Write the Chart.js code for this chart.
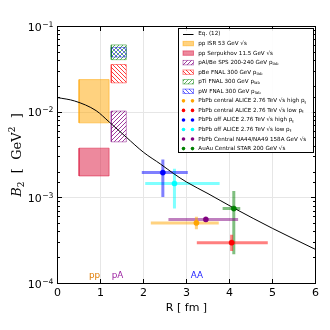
<!DOCTYPE html>
<html>
<head>
<meta charset="utf-8">
<script src="https://cdn.jsdelivr.net/npm/chart.js@4.4.0/dist/chart.umd.min.js"></script>
<style>
html, body { margin: 0; padding: 0; background: #fff; }
</style>
</head>
<body>
<canvas id="chart" width="330" height="330"></canvas>
<script>
// Eq. (12) curve
var curveR = [0, 0.4, 0.9, 1.2, 1.6, 2.0, 2.4, 2.7, 3.0, 3.5, 4.1, 5.0, 6.0];
var curveB = [0.0148, 0.0135, 0.0104, 0.0077, 0.0051, 0.0034, 0.00247, 0.00192, 0.00153, 0.00112, 0.00076, 0.00044, 0.00025];

// pp / pA boxes
var boxLabels = ["pp ISR 53 GeV √s", "pp Serpukhov 11.5 GeV √s", "pAl/Be SPS 200-240 GeV p_lab",
                 "pBe FNAL 300 GeV p_lab", "pTi FNAL 300 GeV p_lab", "pW FNAL 300 GeV p_lab"];
var boxRLo = [0.5, 0.5, 1.25, 1.25, 1.25, 1.25];
var boxRHi = [1.2, 1.2, 1.6, 1.6, 1.6, 1.6];
var boxBLo = [0.0075, 0.0018, 0.0045, 0.022, 0.041, 0.044];
var boxBHi = [0.024, 0.0038, 0.0103, 0.036, 0.061, 0.057];

// AA points with error bars
var ptLabels = ["PbPb central ALICE 2.76 TeV √s high p_t", "PbPb central ALICE 2.76 TeV √s low p_t",
                "PbPb off ALICE 2.76 TeV √s high p_t", "PbPb off ALICE 2.76 TeV √s low p_t",
                "PbPb Central NA44/NA49 158A GeV √s", "AuAu Central STAR 200 GeV √s"];
var ptR   = [3.23, 4.05, 2.45, 2.72, 3.45, 4.10];
var ptRLo = [2.17, 3.24, 1.96, 2.04, 2.58, 3.84];
var ptRHi = [3.75, 4.89, 3.03, 3.77, 4.20, 4.25];
var ptB   = [0.00051, 0.00030, 0.00197, 0.00147, 0.00056, 0.00075];
var ptBLo = [0.00043, 0.00024, 0.00102, 0.00075, 0.00056, 0.00022];
var ptBHi = [0.00060, 0.00037, 0.00280, 0.00219, 0.00056, 0.00120];

var yDecades = [1e-4, 1e-3, 1e-2, 1e-1];

// styles
var boxFill = ['rgba(255,165,0,0.5)', 'rgba(220,20,60,0.5)', null, null, null, null];
var boxEdge = ['rgba(255,165,0,0.5)', 'rgba(220,20,60,0.5)', 'rgba(128,0,128,0.45)',
               'rgba(255,0,0,0.45)', 'rgba(0,128,0,0.45)', 'rgba(0,0,255,0.45)'];
var hatchColor = [null, null, 'rgba(128,0,128,0.85)', 'rgba(255,0,0,0.85)', 'rgba(0,128,0,0.7)', 'rgba(0,0,255,0.7)'];
var hatchDir = [0, 0, 1, -1, 1, -1];
var ptColor = ['255,165,0', '255,0,0', '0,0,255', '0,255,255', '128,0,128', '0,128,0'];

var canvas = document.getElementById('chart');
var ctx = canvas.getContext('2d');

function hatch(color, dir) {
  var s = 4;
  var c = document.createElement('canvas');
  c.width = s; c.height = s;
  var g = c.getContext('2d');
  g.strokeStyle = color;
  g.lineWidth = 0.9;
  g.beginPath();
  if (dir > 0) {
    g.moveTo(-1, s + 1); g.lineTo(s + 1, -1);
    g.moveTo(-1, 1); g.lineTo(1, -1);
    g.moveTo(s - 1, s + 1); g.lineTo(s + 1, s - 1);
  } else {
    g.moveTo(-1, -1); g.lineTo(s + 1, s + 1);
    g.moveTo(s - 1, -1); g.lineTo(s + 1, 1);
    g.moveTo(-1, s - 1); g.lineTo(1, s + 1);
  }
  g.stroke();
  return ctx.createPattern(c, 'repeat');
}

var boxPaint = [];
for (var i = 0; i < boxLabels.length; i++) {
  boxPaint.push(hatchColor[i] ? hatch(hatchColor[i], hatchDir[i]) : boxFill[i]);
}

var datasets = [];
var curvePts = [];
for (i = 0; i < curveR.length; i++) curvePts.push({x: curveR[i], y: curveB[i]});
datasets.push({
  label: 'Eq. (12)', data: curvePts, showLine: true, borderColor: '#000', borderWidth: 1,
  pointRadius: 0, cubicInterpolationMode: 'monotone', fill: false, order: 1
});

for (i = 0; i < boxLabels.length; i++) {
  datasets.push({
    label: boxLabels[i],
    data: [{x: boxRLo[i], y: boxBLo[i]}, {x: boxRHi[i], y: boxBLo[i]}, {x: boxRHi[i], y: boxBHi[i]},
           {x: boxRLo[i], y: boxBHi[i]}, {x: boxRLo[i], y: boxBLo[i]}],
    showLine: true, fill: 'shape', backgroundColor: boxPaint[i], borderColor: boxEdge[i],
    borderWidth: 1, pointRadius: 0, tension: 0, order: 2
  });
}

for (i = 0; i < ptLabels.length; i++) {
  var bar = 'rgba(' + ptColor[i] + ',0.5)';
  datasets.push({
    label: ptLabels[i] + ' xerr', data: [{x: ptRLo[i], y: ptB[i]}, {x: ptRHi[i], y: ptB[i]}],
    showLine: true, borderColor: bar, borderWidth: 3, pointRadius: 0, order: 3
  });
  if (ptBHi[i] > ptBLo[i]) {
    datasets.push({
      label: ptLabels[i] + ' yerr', data: [{x: ptR[i], y: ptBLo[i]}, {x: ptR[i], y: ptBHi[i]}],
      showLine: true, borderColor: bar, borderWidth: 3, pointRadius: 0, order: 3
    });
  }
  datasets.push({
    label: ptLabels[i], data: [{x: ptR[i], y: ptB[i]}], showLine: false,
    pointRadius: 2.6, backgroundColor: 'rgb(' + ptColor[i] + ')', borderColor: 'rgb(' + ptColor[i] + ')',
    borderWidth: 0.5, order: 0
  });
}

function isDecade(v) {
  var l = Math.log10(v);
  return Math.abs(l - Math.round(l)) < 1e-6;
}

function richText(g, text, x, y, size, family) {
  var k = text.indexOf('_');
  var main = k < 0 ? text : text.slice(0, k);
  g.font = size + 'px ' + family;
  g.fillText(main, x, y);
  if (k >= 0) {
    var w = g.measureText(main).width;
    g.font = (size * 0.7) + 'px ' + family;
    g.fillText(text.slice(k + 1), x + w, y + size * 0.3);
  }
}

var decorations = {
  id: 'decorations',
  afterDraw: function(chart) {
    var g = chart.ctx, a = chart.chartArea, xs = chart.scales.x, ys = chart.scales.y;
    g.save();
    g.strokeStyle = '#000';
    g.lineWidth = 1;
    g.strokeRect(a.left, a.top, a.right - a.left, a.bottom - a.top);

    // inward ticks
    g.beginPath();
    xs.ticks.forEach(function(t) {
      var px = Math.round(xs.getPixelForValue(t.value) - 0.5) + 0.5;
      g.moveTo(px, a.bottom); g.lineTo(px, a.bottom - 4.5);
      g.moveTo(px, a.top); g.lineTo(px, a.top + 4.5);
    });
    ys.ticks.forEach(function(t) {
      var py = Math.round(ys.getPixelForValue(t.value) - 0.5) + 0.5;
      var len = isDecade(t.value) ? 4.5 : 2.5;
      g.moveTo(a.left, py); g.lineTo(a.left + len, py);
      g.moveTo(a.right, py); g.lineTo(a.right - len, py);
    });
    g.stroke();

    // y tick labels 10^n
    g.fillStyle = '#000';
    g.textBaseline = 'alphabetic';
    yDecades.forEach(function(v) {
      var py = ys.getPixelForValue(v);
      var sup = '\u2212' + Math.round(-Math.log10(v));
      g.font = '7.7px "DejaVu Sans"';
      var sw = g.measureText(sup).width;
      g.textAlign = 'left';
      g.fillText(sup, 53.5 - sw, py + 0.3);
      g.font = '11px "DejaVu Sans"';
      g.textAlign = 'right';
      g.fillText('10', 53.5 - sw - 0.3, py + 4.2);
    });

    // y axis title
    g.save();
    g.translate(16, (a.top + a.bottom) / 2);
    g.rotate(-Math.PI / 2);
    g.textAlign = 'left';
    var parts = [
      ['B', 'italic 13px "DejaVu Serif"', 0],
      ['2', '9px "DejaVu Serif"', 3],
      ['  [  GeV', '13px "DejaVu Serif"', 0],
      ['2', '9px "DejaVu Serif"', -5.5],
      ['  ]', '13px "DejaVu Serif"', 0]
    ];
    var total = 0;
    parts.forEach(function(p) { g.font = p[1]; total += g.measureText(p[0]).width; });
    var cx = -total / 2;
    parts.forEach(function(p) {
      g.font = p[1];
      g.fillText(p[0], cx, 4.5 + p[2]);
      cx += g.measureText(p[0]).width;
    });
    g.restore();

    // system labels
    g.textAlign = 'left';
    g.font = '8.8px "DejaVu Sans"';
    g.fillStyle = '#e07b00';
    g.fillText('pp', xs.getPixelForValue(0.73), ys.getPixelForValue(1.17e-4));
    g.fillStyle = '#9b1fa0';
    g.fillText('pA', xs.getPixelForValue(1.26), ys.getPixelForValue(1.17e-4));
    g.fillStyle = '#1a1aff';
    g.fillText('AA', xs.getPixelForValue(3.10), ys.getPixelForValue(1.17e-4));

    // legend
    var lx = 178.5, ly = 28.5, lw = 135, lh = 124;
    g.fillStyle = 'rgba(255,255,255,0.9)';
    g.fillRect(lx, ly, lw, lh);
    g.strokeStyle = '#000';
    g.lineWidth = 1;
    g.strokeRect(lx, ly, lw, lh);
    var rowY = function(k) { return 34 + k * 9.55; };
    var hx0 = 183, hx1 = 193.5, tx = 198.3;
    g.textBaseline = 'middle';
    // curve
    g.strokeStyle = '#000';
    g.beginPath(); g.moveTo(hx0, rowY(0) + 0.5); g.lineTo(hx1, rowY(0) + 0.5); g.stroke();
    g.fillStyle = '#000';
    richText(g, 'Eq. (12)', tx, rowY(0), 5.6, '"DejaVu Sans"');
    for (var b = 0; b < boxLabels.length; b++) {
      var y = rowY(b + 1);
      g.fillStyle = boxPaint[b];
      g.fillRect(hx0, y - 2.2, hx1 - hx0, 4.4);
      g.strokeStyle = boxEdge[b];
      g.strokeRect(hx0, y - 2.2, hx1 - hx0, 4.4);
      g.fillStyle = '#000';
      richText(g, boxLabels[b], tx, y, 5.6, '"DejaVu Sans"');
    }
    for (var p = 0; p < ptLabels.length; p++) {
      var yy = rowY(p + 7);
      g.fillStyle = 'rgb(' + ptColor[p] + ')';
      [hx0 + 0.5, hx1 - 1].forEach(function(cxp) {
        g.beginPath(); g.arc(cxp, yy, 1.8, 0, 2 * Math.PI); g.fill();
      });
      g.fillStyle = '#000';
      richText(g, ptLabels[p], tx, yy, 5.6, '"DejaVu Sans"');
    }
    g.restore();
  }
};

new Chart(ctx, {
  type: 'scatter',
  data: { datasets: datasets },
  options: {
    responsive: false,
    animation: false,
    events: [],
    devicePixelRatio: 1,
    layout: { padding: { left: 0, right: 14.5, top: 26.5, bottom: 0 } },
    plugins: { legend: { display: false }, tooltip: { enabled: false } },
    scales: {
      x: {
        type: 'linear', min: 0, max: 6,
        afterFit: function(s) { s.height = 46.5; },
        border: { display: false },
        grid: {
          drawTicks: false,
          color: function(c) { return (c.tick && c.tick.value > 0 && c.tick.value < 6) ? '#e6e6e6' : 'rgba(0,0,0,0)'; }
        },
        ticks: { stepSize: 1, color: '#000', padding: 3, font: { family: 'DejaVu Sans', size: 11 } },
        title: { display: true, text: 'R [ fm ]', color: '#000', font: { family: 'DejaVu Sans', size: 11 },
                 padding: { top: 0, bottom: 15 } }
      },
      y: {
        type: 'logarithmic', min: 1e-4, max: 1e-1,
        afterFit: function(s) { s.width = 57.5; },
        border: { display: false },
        grid: {
          drawTicks: false,
          color: function(c) {
            var v = c.tick && c.tick.value;
            return (v && isDecade(v) && v > 1.5e-4 && v < 0.09) ? '#e6e6e6' : 'rgba(0,0,0,0)';
          }
        },
        ticks: { display: false }
      }
    }
  },
  plugins: [decorations]
});
</script>
</body>
</html>
